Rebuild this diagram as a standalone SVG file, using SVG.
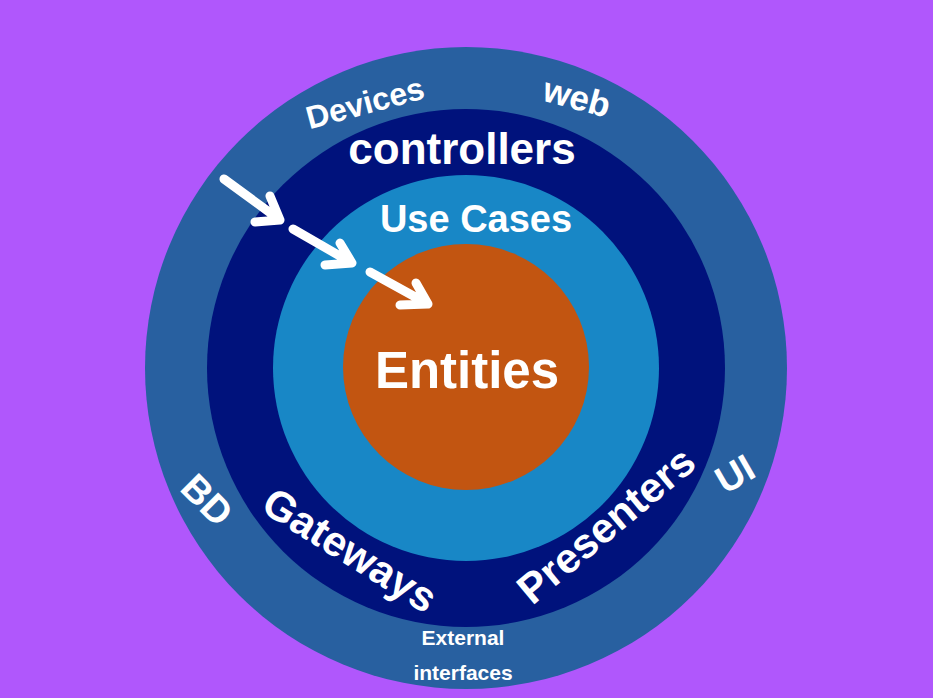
<svg xmlns="http://www.w3.org/2000/svg" width="933" height="698" viewBox="0 0 933 698">
<style>
text{font-family:"Liberation Sans",Arial,sans-serif;fill:#fff;text-anchor:middle;dominant-baseline:central;font-weight:bold}
.a{stroke:#fff;stroke-width:9;stroke-linecap:round;stroke-linejoin:round;fill:none}
</style>
<rect width="933" height="698" fill="#b057fc"/>
<g id="outer"><circle cx="466" cy="368" r="321" fill="#2860a0"/>
<text transform="translate(365,103) rotate(-15)" font-size="32">Devices</text>
<text transform="translate(577,97) rotate(15)" font-size="35">web</text>
<text transform="translate(207,500) rotate(45)" font-size="38">BD</text>
<text transform="translate(735,474) rotate(-30)" font-size="38">UI</text>
<text x="463" y="637" font-size="21">External</text>
<text x="463" y="672" font-size="21">interfaces</text></g>
<g id="interface"><circle cx="466" cy="368" r="259" fill="#00127c"/>
<text x="462" y="148" font-size="44">controllers</text>
<text transform="translate(350,550) rotate(32)" font-size="42">Gateways</text>
<text transform="translate(606,525) rotate(-40)" font-size="42">Presenters</text></g>
<g id="usecases"><circle cx="466" cy="368" r="193" fill="#1887c6"/>
<text x="476" y="219" font-size="38">Use Cases</text></g>
<g id="entities"><circle cx="466" cy="367" r="123" fill="#c25511"/>
<text x="467" y="370" font-size="51">Entities</text></g>
<g id="connectors">
<path class="a" d="M224 179L280 220M270 196L280 220L255 222"/>
<path class="a" d="M293 229L352 263M340 243L352 263L325 265"/>
<path class="a" d="M370 272L428 304M416 283L428 304L400 305"/>
</g>
</svg>
